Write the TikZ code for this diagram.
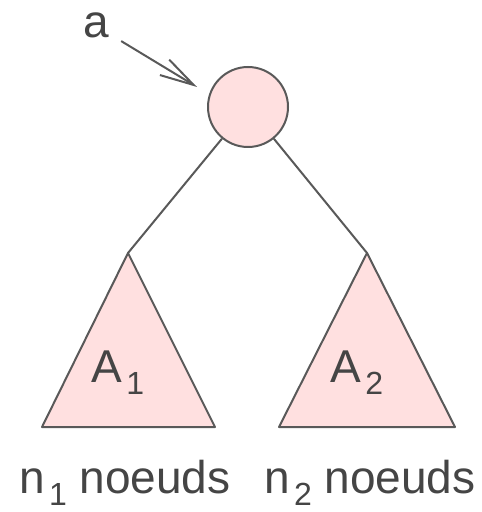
\documentclass[tikz,border=0pt]{standalone}
\usepackage{fontspec}
\setmainfont{Liberation Sans}
\usepackage{xcolor}
\usepackage{tikz}
\usetikzlibrary{arrows.meta, positioning}
\definecolor{rose}{HTML}{FFE0E0}
\definecolor{trait}{HTML}{595959}
\definecolor{texte}{HTML}{454545}
\newcommand{\indice}[1]{\kern2pt\raisebox{-6pt}{\fontsize{16}{16}\selectfont #1}}

\begin{document}
\begin{tikzpicture}[>={Straight Barb[length=17pt,width=9pt]}, x=0.5pt, y=-0.5pt,
        ligne/.style={draw=trait, line width=1pt},
        etiq/.style={text=texte, font=\fontsize{23}{26}\selectfont, inner sep=0pt}]
    \useasboundingbox (0,0) rectangle (481,512);
    % 1. Racine
    \node[ligne, fill=rose, circle, minimum size=40pt, inner sep=0pt] (racine) at (248,107) {};

    % 2. Sous-arbres A1 et A2
    \coordinate (s1) at (128,253);
    \coordinate (s2) at (367,253);
    \draw[ligne, fill=rose, line join=round] (s1) -- (42,427) -- (215,427) -- cycle;
    \draw[ligne, fill=rose, line join=round] (s2) -- (279,427) -- (455,427) -- cycle;

    % 3. Branches
    \draw[ligne] (racine) -- (s1);
    \draw[ligne] (racine) -- (s2);

    % 4. Etiquettes
    \node[etiq, anchor=base] (A1) at (118,382) {A\indice{1}};
    \node[etiq, anchor=base] (A2) at (357,382) {A\indice{2}};
    \node[etiq, anchor=base] (n1) at (125,493) {n\indice{1} noeuds};
    \node[etiq, anchor=base] (n2) at (370,493) {n\indice{2} noeuds};

    % 5. Pointeur a
    \node[etiq, anchor=base] (a) at (96,38) {a};
    \coordinate (pointe) at (197,87);
    \draw[ligne, ->, shorten <=7pt] (a) -- (pointe);
\end{tikzpicture}
\end{document}
